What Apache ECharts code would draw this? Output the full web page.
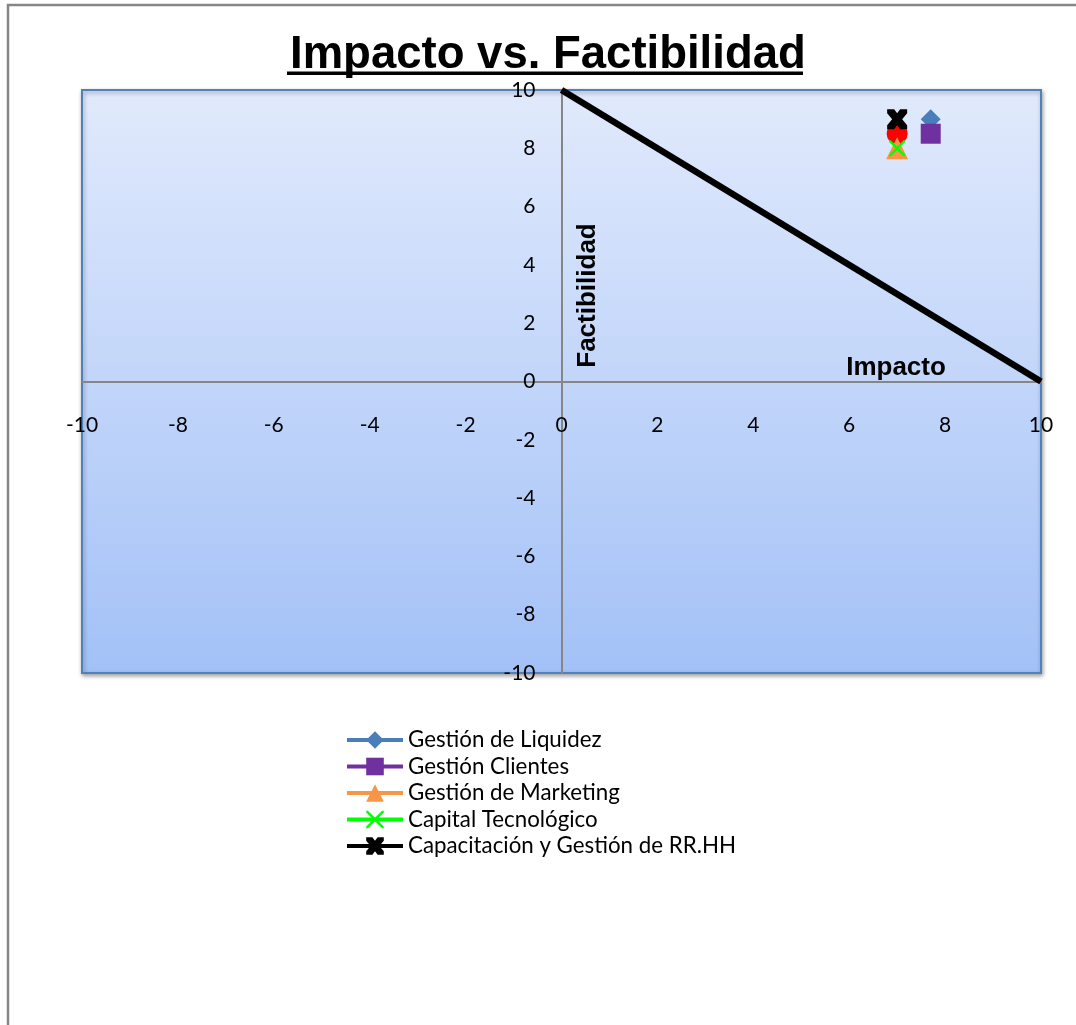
<!DOCTYPE html>
<html>
<head>
<meta charset="utf-8">
<title>Impacto vs. Factibilidad</title>
<script src="https://cdn.jsdelivr.net/npm/echarts@6/dist/echarts.min.js"></script>
<style>
  html, body { margin: 0; padding: 0; background: #fff; }
  #chart { width: 1076px; height: 1025px; }
</style>
</head>
<body>
<div id="chart"></div>
<script>
// Axis range shared by both axes (Impacto on x, Factibilidad on y)
const axisMin = -10;
const axisMax = 10;
const axisStep = 2;

// Legend series, each a single [impacto, factibilidad] point
const seriesNames = [
  'Gestión de Liquidez',
  'Gestión Clientes',
  'Gestión de Marketing',
  'Capital Tecnológico',
  'Capacitación y Gestión de RR.HH'
];
const liquidez = [[7.7, 9]];
const clientes = [[7.7, 8.5]];
const marketing = [[7, 8]];
const capitalTec = [[7, 8]];
const capacitacion = [[7, 9]];

// Extra point without legend entry
const puntoRojo = [[7, 8.5]];

// Diagonal boundary between (0,10) and (10,0)
const frontera = [[0, 10], [10, 0]];

const thinX = 'path://M0,0 L2,0 L10,8 L18,0 L20,0 L20,2 L12,10 L20,18 L20,20 L18,20 L10,12 L2,20 L0,20 L0,18 L8,10 L0,2 Z';
const boldX = 'path://M0,0 L7,0 L10,4 L13,0 L20,0 L20,4 L15,10 L20,16 L20,20 L13,20 L10,16 L7,20 L0,20 L0,16 L5,10 L0,4 Z';

const labelFont = 'Lato, "Open Sans", sans-serif';

// Plot box in pixels; the axes are shifted so they cross at (0, 0)
const gridLeft = 82, gridTop = 90, gridW = 959, gridH = 583;

const chart = echarts.init(document.getElementById('chart'), null, { renderer: 'canvas' });

function pointSeries(name, data, color, symbol, size) {
  return {
    name: name,
    type: 'line',
    data: data,
    symbol: symbol,
    symbolSize: size,
    showSymbol: true,
    itemStyle: { color: color, opacity: 1 },
    lineStyle: { color: color, width: 4 },
    emphasis: { disabled: true },
    animation: false
  };
}

chart.setOption({
  backgroundColor: '#ffffff',
  animation: false,
  title: {
    text: 'Impacto vs. Factibilidad',
    left: 285,
    top: 27,
    textStyle: {
      fontFamily: '"Liberation Sans", Arial, sans-serif',
      fontWeight: 'bold',
      fontSize: 45.5,
      color: '#000'
    }
  },
  grid: {
    left: gridLeft,
    top: gridTop,
    width: gridW,
    height: gridH,
    show: true,
    backgroundColor: new echarts.graphic.LinearGradient(0, 0, 0, 1, [
      { offset: 0, color: '#E1EAFC' },
      { offset: 1, color: '#A3C1F7' }
    ]),
    borderColor: '#4F81BD',
    borderWidth: 2,
    shadowColor: 'rgba(0,0,0,0.35)',
    shadowBlur: 4,
    shadowOffsetX: 1,
    shadowOffsetY: 2
  },
  xAxis: {
    type: 'value',
    min: axisMin,
    max: axisMax,
    interval: axisStep,
    position: 'bottom',
    offset: -gridH / 2,
    axisLine: { show: true, onZero: false, lineStyle: { color: '#868686', width: 2 } },
    axisTick: { show: false },
    splitLine: { show: false },
    axisLabel: {
      margin: 33,
      color: '#000',
      fontFamily: labelFont,
      fontSize: 21
    }
  },
  yAxis: {
    type: 'value',
    min: axisMin,
    max: axisMax,
    interval: axisStep,
    position: 'left',
    offset: -gridW / 2,
    axisLine: { show: true, onZero: false, lineStyle: { color: '#868686', width: 2 } },
    axisTick: { show: false },
    splitLine: { show: false },
    axisLabel: {
      margin: 26,
      color: '#000',
      fontFamily: labelFont,
      fontSize: 21
    }
  },
  legend: {
    orient: 'vertical',
    left: 340,
    top: 724,
    data: seriesNames,
    itemWidth: 56,
    itemHeight: 22,
    itemGap: 4.5,
    selectedMode: false,
    lineStyle: { width: 4 },
    textStyle: {
      fontFamily: labelFont,
      fontSize: 22.3,
      lineHeight: 22,
      color: '#000'
    }
  },
  graphic: [
    {
      type: 'rect',
      silent: true,
      shape: { x: 8, y: 5, width: 1200, height: 1200 },
      style: { fill: 'none', stroke: '#868686', lineWidth: 2.5 }
    },
    {
      type: 'rect',
      silent: true,
      shape: { x: 287, y: 71.5, width: 516, height: 3.5 },
      style: { fill: '#000' }
    },
    {
      type: 'text',
      silent: true,
      x: 896,
      y: 368,
      style: {
        text: 'Impacto',
        fontFamily: '"Liberation Sans", Arial, sans-serif',
        fontWeight: 'bold',
        fontSize: 26,
        fill: '#000',
        align: 'center',
        verticalAlign: 'middle'
      },
      z: 10
    },
    {
      type: 'text',
      silent: true,
      x: 588,
      y: 295.5,
      rotation: Math.PI / 2,
      style: {
        text: 'Factibilidad',
        fontFamily: '"Liberation Sans", Arial, sans-serif',
        fontWeight: 'bold',
        fontSize: 26,
        fill: '#000',
        align: 'center',
        verticalAlign: 'middle'
      },
      z: 10
    }
  ],
  series: [
    {
      name: 'Frontera',
      type: 'line',
      data: frontera,
      symbol: 'none',
      lineStyle: { color: '#000', width: 6.5 },
      emphasis: { disabled: true },
      animation: false
    },
    pointSeries(seriesNames[0], liquidez, '#4A7EBB', 'diamond', 20),
    pointSeries(seriesNames[1], clientes, '#7030A0', 'rect', 20),
    pointSeries(seriesNames[2], marketing, '#F79646', 'triangle', 22),
    pointSeries(seriesNames[3], capitalTec, '#00FF00', thinX, 16),
    pointSeries(seriesNames[4], capacitacion, '#000000', boldX, 20),
    {
      name: 'Punto de referencia',
      type: 'scatter',
      data: puntoRojo,
      symbol: 'circle',
      symbolSize: 21,
      itemStyle: { color: '#FF0000', opacity: 1 },
      emphasis: { disabled: true },
      animation: false
    }
  ]
});
</script>
</body>
</html>
